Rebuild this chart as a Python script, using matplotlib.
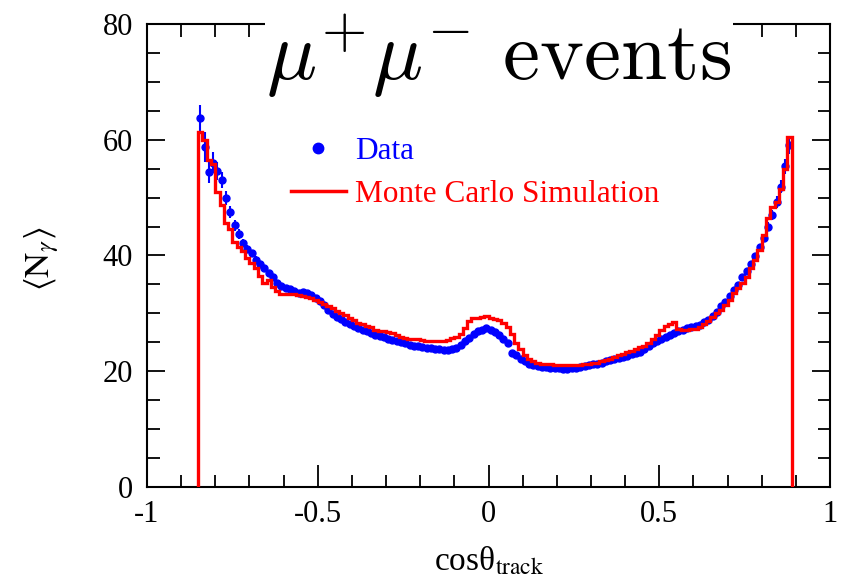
import matplotlib
matplotlib.use("Agg")
import matplotlib.pyplot as plt
import numpy as np
from matplotlib.lines import Line2D
from matplotlib.ticker import MultipleLocator

plt.rcParams['font.family'] = ['Liberation Serif', 'DejaVu Serif']

# ---- binning (160 bins on [-1,1], filled range) ----
BIN_LO, BIN_HI, N_BINS = -0.85, 0.8875, 139

# ---- Monte Carlo simulation <N_gamma> per bin ----
mc_values = [
    61.3, 60.0, 56.5, 55.8, 51.0, 48.7, 45.6, 44.6,
    42.4, 41.5, 40.7, 39.6, 38.7, 37.8, 36.4, 35.2,
    35.7, 34.6, 33.8, 33.4, 33.3, 33.4, 33.3, 33.1,
    33.0, 32.9, 32.6, 32.3, 32.0, 31.6, 31.2, 30.9,
    30.4, 30.1, 29.7, 29.2, 28.8, 28.4, 28.1, 27.8,
    27.6, 27.2, 27.0, 26.9, 26.7, 26.6, 26.3, 26.0,
    25.8, 25.6, 25.6, 25.5, 25.4, 25.3, 25.2, 25.2,
    25.2, 25.3, 25.4, 25.7, 26.0, 26.5, 27.4, 28.6,
    29.2, 29.2, 29.3, 29.5, 29.2, 29.0, 28.9, 28.4,
    27.6, 26.4, 24.9, 23.8, 22.8, 22.2, 21.8, 21.5,
    21.3, 21.3, 21.2, 21.1, 21.0, 21.0, 21.0, 21.0,
    21.1, 21.1, 21.2, 21.3, 21.4, 21.5, 21.7, 21.9,
    22.2, 22.5, 22.8, 23.0, 23.3, 23.5, 23.8, 24.2,
    24.4, 24.9, 25.5, 26.2, 27.2, 27.9, 28.1, 28.5,
    27.3, 27.2, 27.2, 27.3, 27.3, 27.7, 28.1, 28.6,
    29.4, 30.0, 30.6, 31.4, 32.3, 33.5, 34.3, 35.2,
    36.3, 37.8, 39.2, 40.9, 43.5, 46.4, 48.4, 49.3,
    51.5, 55.0, 60.5,
]

# ---- Data <N_gamma> per bin ----
data_values = [
    63.7, 58.8, 54.5, 56.0, 54.6, 53.0, 50.0, 47.5,
    45.2, 43.7, 42.2, 41.2, 40.4, 39.3, 38.6, 37.9,
    36.9, 36.2, 35.3, 34.8, 34.4, 34.2, 33.9, 33.6,
    33.7, 33.5, 33.1, 32.7, 32.1, 31.4, 30.5, 29.9,
    29.4, 29.0, 28.5, 28.1, 27.8, 27.5, 27.1, 26.9,
    26.6, 26.3, 26.1, 25.9, 25.6, 25.4, 25.2, 25.0,
    24.8, 24.6, 24.4, 24.3, 24.2, 24.1, 24.0, 23.9,
    23.8, 23.7, 23.7, 23.8, 24.1, 24.6, 25.2, 25.8,
    26.5, 26.9, 27.2, 27.4, 27.2, 26.8, 26.3, 25.6,
    24.9, 23.2, 22.8, 22.2, 21.7, 21.3, 21.1, 20.9,
    20.8, 20.7, 20.6, 20.5, 20.5, 20.4, 20.4, 20.5,
    20.6, 20.7, 20.9, 21.0, 21.2, 21.3, 21.5, 21.7,
    21.9, 22.1, 22.3, 22.5, 22.7, 22.9, 23.2, 23.4,
    23.8, 24.3, 24.8, 25.2, 25.6, 25.9, 26.3, 26.6,
    26.9, 27.2, 27.4, 27.6, 27.8, 28.0, 28.5, 28.9,
    29.5, 30.3, 31.2, 31.9, 33.0, 34.0, 34.9, 36.2,
    37.3, 38.5, 39.9, 41.4, 43.0, 45.0, 47.0, 49.2,
    51.9, 55.4, 59.1,
]

data_errors = [
    2.3, 2.6, 2.0, 1.8, 1.6, 1.4, 1.2, 1.0,
    0.9, 0.8, 0.7, 0.7, 0.6, 0.6, 0.5, 0.5,
    0.5, 0.5, 0.4, 0.4, 0.4, 0.4, 0.4, 0.4,
    0.4, 0.4, 0.4, 0.4, 0.4, 0.4, 0.4, 0.4,
    0.3, 0.3, 0.3, 0.3, 0.3, 0.3, 0.3, 0.3,
    0.3, 0.3, 0.3, 0.3, 0.3, 0.3, 0.3, 0.3,
    0.3, 0.3, 0.3, 0.3, 0.3, 0.3, 0.3, 0.3,
    0.3, 0.3, 0.3, 0.3, 0.3, 0.3, 0.3, 0.3,
    0.3, 0.3, 0.3, 0.3, 0.3, 0.3, 0.3, 0.3,
    0.3, 0.3, 0.3, 0.3, 0.3, 0.3, 0.3, 0.3,
    0.3, 0.3, 0.3, 0.3, 0.3, 0.3, 0.3, 0.3,
    0.3, 0.3, 0.3, 0.3, 0.3, 0.3, 0.3, 0.3,
    0.3, 0.3, 0.3, 0.3, 0.3, 0.3, 0.3, 0.3,
    0.3, 0.3, 0.3, 0.3, 0.3, 0.3, 0.3, 0.3,
    0.4, 0.4, 0.4, 0.4, 0.4, 0.4, 0.4, 0.4,
    0.4, 0.4, 0.4, 0.4, 0.5, 0.5, 0.5, 0.5,
    0.5, 0.5, 0.6, 0.6, 0.7, 0.8, 0.9, 1.0,
    1.1, 1.3, 1.5,
]

x_ticks = [-1, -0.5, 0, 0.5, 1]
x_tick_labels = ['-1', '-0.5', '0', '0.5', '1']
y_ticks = [0, 20, 40, 60, 80]
y_tick_labels = ['0', '20', '40', '60', '80']

edges = np.linspace(BIN_LO, BIN_HI, N_BINS + 1)
centers = 0.5 * (edges[:-1] + edges[1:])
half_w = 0.5 * (edges[1] - edges[0])

fig = plt.figure(figsize=(8.44, 5.85), dpi=100)
ax = fig.add_axes([147 / 844, 1 - 487 / 585, (830 - 147) / 844, (487 - 24) / 585])

ax.errorbar(centers, data_values, yerr=data_errors, xerr=half_w, fmt='o',
            color='blue', ms=5, elinewidth=1.5, capsize=0, zorder=3)
ax.stairs(mc_values, edges, baseline=0, color='red', lw=2.4, zorder=4)

ax.set_xlim(-1, 1)
ax.set_ylim(0, 80)
ax.set_xticks(x_ticks, labels=x_tick_labels)
ax.set_yticks(y_ticks, labels=y_tick_labels)
ax.xaxis.set_minor_locator(MultipleLocator(0.1))
ax.yaxis.set_minor_locator(MultipleLocator(5))
ax.tick_params(which='both', direction='in', top=True, right=True,
               labelsize=22, width=1.3, colors='black')
ax.tick_params(axis='x', which='major', length=16, pad=9)
ax.tick_params(axis='x', which='minor', length=9)
ax.tick_params(axis='y', which='major', length=13, pad=10)
ax.tick_params(axis='y', which='minor', length=9)
for sp in ax.spines.values():
    sp.set_linewidth(1.5)

ax.set_xlabel('cosθ$_{\\mathrm{track}}$', fontsize=24, math_fontfamily='stix')
ax.xaxis.set_label_coords(0.5, -0.125)
ax.xaxis.label.set_va('top')
ax.set_ylabel(r'$\langle\mathrm{N}_{\gamma}\rangle$', fontsize=25, math_fontfamily='stix')
ax.yaxis.set_label_coords(-0.126, 0.492)

ax.text(0.03, 70.3, r'$\mu^{+}\mu^{-}\ \mathrm{events}$', math_fontfamily='cm',
        fontsize=60, ha='center', va='baseline', zorder=6, clip_on=False,
        bbox=dict(facecolor='white', edgecolor='none', pad=1))

h_data = Line2D([], [], ls='none', marker='o', color='blue', ms=7.5)
h_mc = Line2D([], [], color='red', lw=2.5)
leg = ax.legend([h_data, h_mc], ['Data', 'Monte Carlo Simulation'],
                loc='upper left', bbox_to_anchor=(291 / 844, 1 - 137 / 585),
                bbox_transform=fig.transFigure, frameon=False, fontsize=22.5,
                handlelength=1.75, handletextpad=0.3, labelspacing=0.45,
                borderpad=0, borderaxespad=0)
leg.get_texts()[0].set_color('blue')
leg.get_texts()[1].set_color('red')

fig.savefig('out.png', dpi=100)
